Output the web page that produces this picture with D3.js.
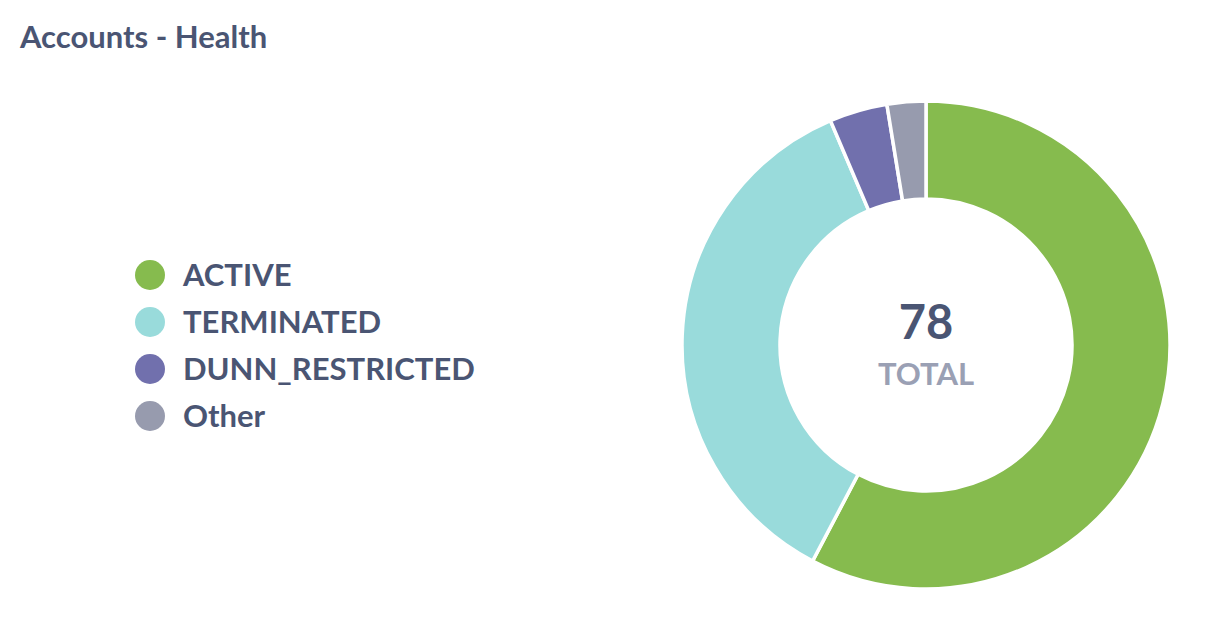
<!DOCTYPE html>
<html>
<head>
<meta charset="utf-8">
<script src="https://cdn.jsdelivr.net/npm/d3@7"></script>
<style>
html,body{margin:0;padding:0;background:#fff;}
svg{display:block;font-family:Lato,"Open Sans",sans-serif;}
</style>
</head>
<body>
<svg id="chart" width="1227" height="619"></svg>
<script>
const categories = ["ACTIVE", "TERMINATED", "DUNN_RESTRICTED", "Other"];
const values = [45, 28, 3, 2];
const colors = ["#86bb4e", "#99dbdb", "#7170ad", "#979bae"];
const title = "Accounts - Health";
const totalLabel = "TOTAL";

const svg = d3.select("#chart");
const textColor = "#4a5573";

svg.append("text")
  .attr("x", 20).attr("y", 48)
  .attr("font-size", 31).attr("font-weight", 700)
  .attr("fill", textColor)
  .text(title);

const data = categories.map((c, i) => ({name: c, value: values[i], color: colors[i]}));
const pie = d3.pie().value(d => d.value).sort(null);
const arc = d3.arc().innerRadius(146).outerRadius(244);

const g = svg.append("g").attr("transform", "translate(926,345)");
g.selectAll("path").data(pie(data)).join("path")
  .attr("d", arc)
  .attr("fill", d => d.data.color)
  .attr("stroke", "#fff")
  .attr("stroke-width", 3.5);

const total = d3.sum(values);
g.append("text").attr("x", 0).attr("y", -6)
  .attr("text-anchor", "middle")
  .attr("font-size", 47).attr("font-weight", 700)
  .attr("fill", textColor).text(total);
g.append("text").attr("x", 0).attr("y", 40)
  .attr("text-anchor", "middle")
  .attr("font-size", 31).attr("font-weight", 700)
  .attr("fill", "#9aa0b4").text(totalLabel);

const legend = svg.append("g").attr("transform", "translate(150,275)");
const items = legend.selectAll("g").data(data).join("g")
  .attr("transform", (d, i) => `translate(0,${i * 47})`);
items.append("circle").attr("r", 15).attr("fill", d => d.color);
items.append("text").attr("x", 33).attr("y", 11)
  .attr("font-size", 31).attr("font-weight", 700)
  .attr("fill", textColor).text(d => d.name);
</script>
</body>
</html>
